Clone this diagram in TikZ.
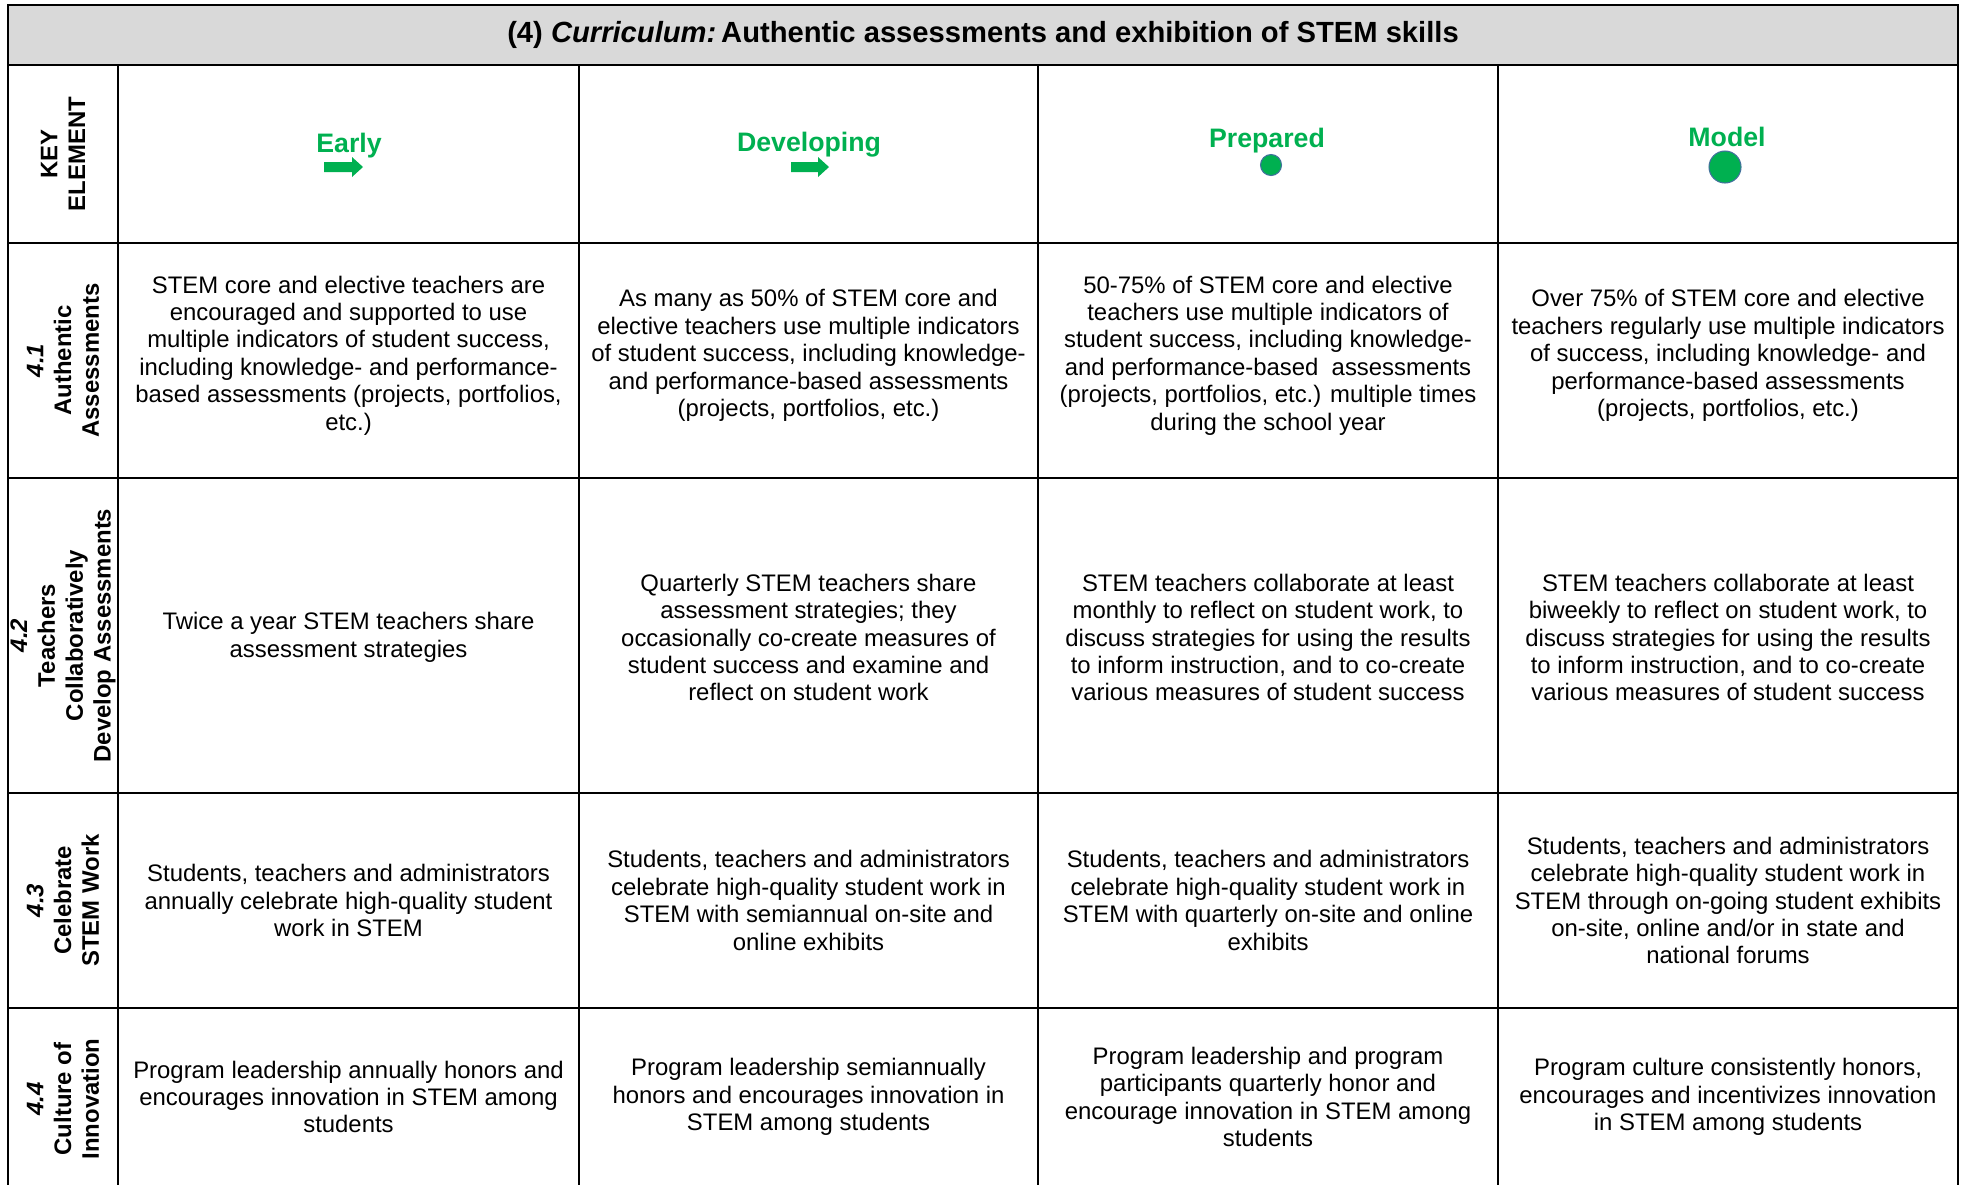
\documentclass[tikz,border=0pt]{standalone}
\usepackage{fontspec}
\setmainfont{Liberation Sans}
\setsansfont{Liberation Sans}
\usetikzlibrary{fit,positioning,calc}
\definecolor{stagegreen}{HTML}{00B050}
\definecolor{headgray}{HTML}{D9D9D9}
\definecolor{dotline}{HTML}{41719C}

\begin{document}
\begin{tikzpicture}[x=0.1mm,y=-0.1mm,font=\sffamily,line width=0.65pt,
	every fit/.style={inner sep=0pt, outer sep=0pt},
	cell/.style={draw},
	body/.style={align=center,inner sep=0pt,font=\sffamily\fontsize{6.8}{7.8}\selectfont},
	side/.style={align=center,inner sep=0pt,rotate=90,font=\sffamily\bfseries\fontsize{6.8}{7.9}\selectfont},
	stage/.style={inner sep=0pt,text=stagegreen,font=\sffamily\bfseries\fontsize{7.6}{8.8}\selectfont},
	dot/.style={circle,fill=stagegreen,draw=dotline,line width=0.3pt,inner sep=0pt}]

	\useasboundingbox (0,0) rectangle (1967,1184);
	\clip (0,0) rectangle (1967,1184);

	% title bar
	\node [cell, fill=headgray, fit={(8,5) (1958,65)}] (head) {};
	\node [inner sep=0pt, font=\sffamily\bfseries\fontsize{8.3}{9.6}\selectfont] (title) at (head.center)
		{(4) \textit{Curriculum:}\,Authentic assessments and exhibition of STEM skills};

	% stage row
	\node [cell, fit={(8,65) (118,243)}] (s0) {};
	\node [cell, fit={(118,65) (579,243)}] (a0) {};
	\node [cell, fit={(579,65) (1038,243)}] (b0) {};
	\node [cell, fit={(1038,65) (1498,243)}] (c0) {};
	\node [cell, fit={(1498,65) (1958,243)}] (d0) {};
	\node [side] (key) at (s0.center) {KEY\\ELEMENT};

	\node [stage] (early) at (349,146) {Early};
	\fill [stagegreen] (343.5,167) ++(-19.5,-5) -- ++(28,0) -- ++(0,-5) -- ++(11,10) -- ++(-11,10) -- ++(0,-5) -- ++(-28,0) -- cycle;
	\node [stage] (developing) at (809,145) {Developing};
	\fill [stagegreen] (810,167) ++(-19,-5) -- ++(27,0) -- ++(0,-5) -- ++(11,10) -- ++(-11,10) -- ++(0,-5) -- ++(-27,0) -- cycle;
	\node [stage] (prepared) at (1267,141) {Prepared};
	\node [dot, minimum size=2.1mm] (pdot) at (1271,165) {};
	\node [stage] (model) at (1727,137) {Model};
	\node [dot, minimum size=3.2mm] (mdot) at (1725,167) {};

	% 4.1
	\node [cell, fit={(8,243) (118,478)}] (s1) {};
	\node [cell, fit={(118,243) (579,478)}] (a1) {};
	\node [cell, fit={(579,243) (1038,478)}] (b1) {};
	\node [cell, fit={(1038,243) (1498,478)}] (c1) {};
	\node [cell, fit={(1498,243) (1958,478)}] (d1) {};
	\node [side] (k1) at (s1.center) {\textit{4.1}\\Authentic\\Assessments};
	\node [body, yshift=0.5mm] (t-a1) at (a1.center) {STEM core and elective teachers are\\encouraged and supported to use\\multiple indicators of student success,\\including knowledge- and performance-\\based assessments (projects, portfolios,\\etc.)};
	\node [body, yshift=0.5mm] (t-b1) at (b1.center) {As many as 50\% of STEM core and\\elective teachers use multiple indicators\\of student success, including knowledge-\\and performance-based assessments\\(projects, portfolios, etc.)};
	\node [body, yshift=0.5mm] (t-c1) at (c1.center) {50-75\% of STEM core and elective\\teachers use multiple indicators of\\student success, including knowledge-\\and performance-based\ \ assessments\\(projects, portfolios, etc.) multiple times\\during the school year};
	\node [body, yshift=0.5mm] (t-d1) at (d1.center) {Over 75\% of STEM core and elective\\teachers regularly use multiple indicators\\of success, including knowledge- and\\performance-based assessments\\(projects, portfolios, etc.)};

	% 4.2
	\node [cell, fit={(8,478) (118,793)}] (s2) {};
	\node [cell, fit={(118,478) (579,793)}] (a2) {};
	\node [cell, fit={(579,478) (1038,793)}] (b2) {};
	\node [cell, fit={(1038,478) (1498,793)}] (c2) {};
	\node [cell, fit={(1498,478) (1958,793)}] (d2) {};
	\node [side] (k2) at (s2.center) {\textit{4.2}\\Teachers\\Collaboratively\\Develop Assessments};
	\node [body, yshift=-0.2mm] (t-a2) at (a2.center) {Twice a year STEM teachers share\\assessment strategies};
	\node [body, yshift=-0.2mm] (t-b2) at (b2.center) {Quarterly STEM teachers share\\assessment strategies; they\\occasionally co-create measures of\\student success and examine and\\reflect on student work};
	\node [body, yshift=-0.2mm] (t-c2) at (c2.center) {STEM teachers collaborate at least\\monthly to reflect on student work, to\\discuss strategies for using the results\\to inform instruction, and to co-create\\various measures of student success};
	\node [body, yshift=-0.2mm] (t-d2) at (d2.center) {STEM teachers collaborate at least\\biweekly to reflect on student work, to\\discuss strategies for using the results\\to inform instruction, and to co-create\\various measures of student success};

	% 4.3
	\node [cell, fit={(8,793) (118,1008)}] (s3) {};
	\node [cell, fit={(118,793) (579,1008)}] (a3) {};
	\node [cell, fit={(579,793) (1038,1008)}] (b3) {};
	\node [cell, fit={(1038,793) (1498,1008)}] (c3) {};
	\node [cell, fit={(1498,793) (1958,1008)}] (d3) {};
	\node [side] (k3) at (s3.center) {\textit{4.3}\\Celebrate\\STEM Work};
	\node [body] (t-a3) at (a3.center) {Students, teachers and administrators\\annually celebrate high-quality student\\work in STEM};
	\node [body] (t-b3) at (b3.center) {Students, teachers and administrators\\celebrate high-quality student work in\\STEM with semiannual on-site and\\online exhibits};
	\node [body] (t-c3) at (c3.center) {Students, teachers and administrators\\celebrate high-quality student work in\\STEM with quarterly on-site and online\\exhibits};
	\node [body] (t-d3) at (d3.center) {Students, teachers and administrators\\celebrate high-quality student work in\\STEM through on-going student exhibits\\on-site, online and/or in state and\\national forums};

	% 4.4
	\node [cell, fit={(8,1008) (118,1190)}] (s4) {};
	\node [cell, fit={(118,1008) (579,1190)}] (a4) {};
	\node [cell, fit={(579,1008) (1038,1190)}] (b4) {};
	\node [cell, fit={(1038,1008) (1498,1190)}] (c4) {};
	\node [cell, fit={(1498,1008) (1958,1190)}] (d4) {};
	\node [side] (k4) at (s4.center) {\textit{4.4}\\Culture of\\Innovation};
	\node [body, yshift=0.2mm] (t-a4) at (a4.center) {Program leadership annually honors and\\encourages innovation in STEM among\\students};
	\node [body, yshift=0.2mm] (t-b4) at (b4.center) {Program leadership semiannually\\honors and encourages innovation in\\STEM among students};
	\node [body, yshift=0.2mm] (t-c4) at (c4.center) {Program leadership and program\\participants quarterly honor and\\encourage innovation in STEM among\\students};
	\node [body, yshift=0.2mm] (t-d4) at (d4.center) {Program culture consistently honors,\\encourages and incentivizes innovation\\in STEM among students};
\end{tikzpicture}
\end{document}
